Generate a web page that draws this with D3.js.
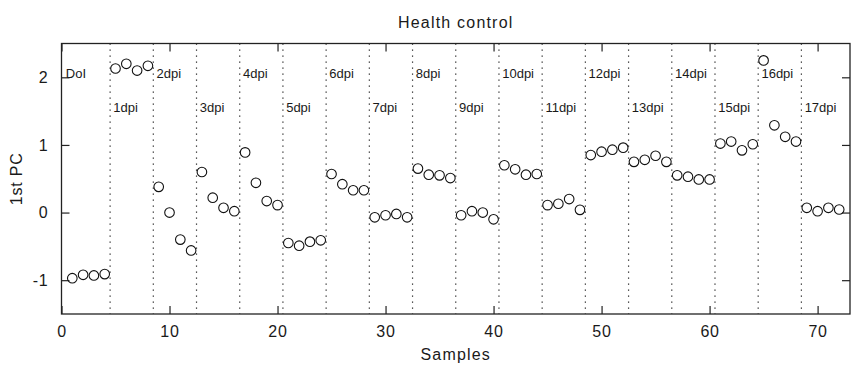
<!DOCTYPE html>
<html lang="en">
<head>
    <meta charset="UTF-8">
    <title>Health control</title>
    <script src="https://d3js.org/d3.v7.min.js"></script>
    <style>
        body { margin: 0; background: #fff; }
        text { font-family: "Liberation Sans", Arial, sans-serif; fill: #1a1a1a; }
    </style>
</head>
<body>
    <svg width="851" height="366" id="mainsvg"></svg>

    <script>
        // 1st PC value for each sample (1..72)
        const pcValues = [
            -0.97, -0.92, -0.93, -0.91,
            2.13, 2.20, 2.10, 2.17,
            0.38, 0.00, -0.40, -0.56,
            0.60, 0.22, 0.07, 0.02,
            0.89, 0.44, 0.17, 0.11,
            -0.45, -0.49, -0.43, -0.41,
            0.57, 0.42, 0.33, 0.33,
            -0.07, -0.04, -0.02, -0.07,
            0.65, 0.56, 0.55, 0.51,
            -0.04, 0.02, 0.00, -0.10,
            0.70, 0.64, 0.56, 0.57,
            0.11, 0.13, 0.20, 0.04,
            0.85, 0.90, 0.93, 0.96,
            0.75, 0.78, 0.84, 0.75,
            0.55, 0.53, 0.49, 0.49,
            1.02, 1.05, 0.92, 1.01,
            2.25, 1.29, 1.12, 1.05,
            0.07, 0.02, 0.07, 0.045
        ];
        const samples = pcValues.map((d, i) => i + 1);
        const groupLabels = ["DoI", "1dpi", "2dpi", "3dpi", "4dpi", "5dpi", "6dpi", "7dpi", "8dpi",
            "9dpi", "10dpi", "11dpi", "12dpi", "13dpi", "14dpi", "15dpi", "16dpi", "17dpi"];
        const groupBounds = [4.5, 8.5, 12.5, 16.5, 20.5, 24.5, 28.5, 32.5, 36.5,
            40.5, 44.5, 48.5, 52.5, 56.5, 60.5, 64.5, 68.5];
        const labelRows = [2, 1.5];
        const xTicks = [0, 10, 20, 30, 40, 50, 60, 70];
        const yTicks = [-1, 0, 1, 2];

        const svg = d3.select("#mainsvg");
        const margin = {top: 43.5, right: 1, bottom: 52, left: 61.5},
            innerWidth = +svg.attr("width") - margin.left - margin.right,
            innerHeight = +svg.attr("height") - margin.top - margin.bottom;
        const g = svg.append("g").attr("transform", `translate(${margin.left}, ${margin.top})`);

        const xScale = d3.scaleLinear().domain([0, 73]).range([0, innerWidth]);
        const yScale = d3.scaleLinear().domain([-1.5, 2.5]).range([innerHeight, 0]);

        // dotted separators between days
        g.selectAll(".sep").data(groupBounds).join("line")
            .attr("class", "sep")
            .attr("x1", d => xScale(d)).attr("x2", d => xScale(d))
            .attr("y1", 0).attr("y2", innerHeight)
            .attr("stroke", "#222").attr("stroke-width", 1.2)
            .attr("stroke-dasharray", "1.2 4.8");

        // day labels alternate between two rows
        g.selectAll(".lab").data(groupLabels).join("text")
            .attr("class", "lab")
            .attr("x", (d, i) => xScale(i === 0 ? 0.4 : groupBounds[i - 1] + 0.3))
            .attr("y", (d, i) => yScale(labelRows[i % 2]) + 1)
            .attr("font-size", 13)
            .text(d => d);

        // axes with inward ticks on all four sides
        const fmt = d => String(d);
        const axB = d3.axisBottom(xScale).tickValues(xTicks).tickFormat(fmt).tickSizeInner(-8).tickSizeOuter(0).tickPadding(12);
        const axT = d3.axisTop(xScale).tickValues(xTicks).tickSizeInner(-8).tickSizeOuter(0);
        const axL = d3.axisLeft(yScale).tickValues(yTicks).tickFormat(fmt).tickSizeInner(-8).tickSizeOuter(0).tickPadding(13);
        const axR = d3.axisRight(yScale).tickValues(yTicks).tickSizeInner(-8).tickSizeOuter(0);

        g.append("g").attr("transform", `translate(0, ${innerHeight})`).call(axB);
        g.append("g").attr("class", "noLabels").call(axT);
        g.append("g").call(axL);
        g.append("g").attr("class", "noLabels").attr("transform", `translate(${innerWidth}, 0)`).call(axR);
        g.selectAll(".noLabels .tick text").remove();

        g.selectAll(".domain").remove();
        g.selectAll(".tick line").attr("stroke", "#222").attr("stroke-width", 1.2);
        g.selectAll(".tick text").attr("font-size", 16).attr("fill", "#1a1a1a")
            .attr("font-family", '"Liberation Sans", Arial, sans-serif')
            .style("letter-spacing", "0.8px");

        g.append("rect")
            .attr("width", innerWidth).attr("height", innerHeight)
            .attr("fill", "none").attr("stroke", "#222").attr("stroke-width", 1.3);

        // data points
        g.selectAll(".pt").data(pcValues).join("circle")
            .attr("class", "pt")
            .attr("cx", (d, i) => xScale(samples[i]))
            .attr("cy", d => yScale(d))
            .attr("r", 4.8)
            .attr("fill", "none").attr("stroke", "#111").attr("stroke-width", 1.1);

        // titles
        svg.append("text")
            .attr("x", margin.left + innerWidth / 2).attr("y", 28)
            .attr("text-anchor", "middle").attr("font-size", 16)
            .style("letter-spacing", "1.2px")
            .text("Health control");
        svg.append("text")
            .attr("x", margin.left + innerWidth / 2).attr("y", 360)
            .attr("text-anchor", "middle").attr("font-size", 16)
            .style("letter-spacing", "1.2px")
            .text("Samples");
        svg.append("text")
            .attr("transform", `translate(22, ${margin.top + innerHeight / 2}) rotate(-90)`)
            .attr("text-anchor", "middle").attr("font-size", 16)
            .style("letter-spacing", "0.8px")
            .text("1st PC");
    </script>
</body>
</html>
